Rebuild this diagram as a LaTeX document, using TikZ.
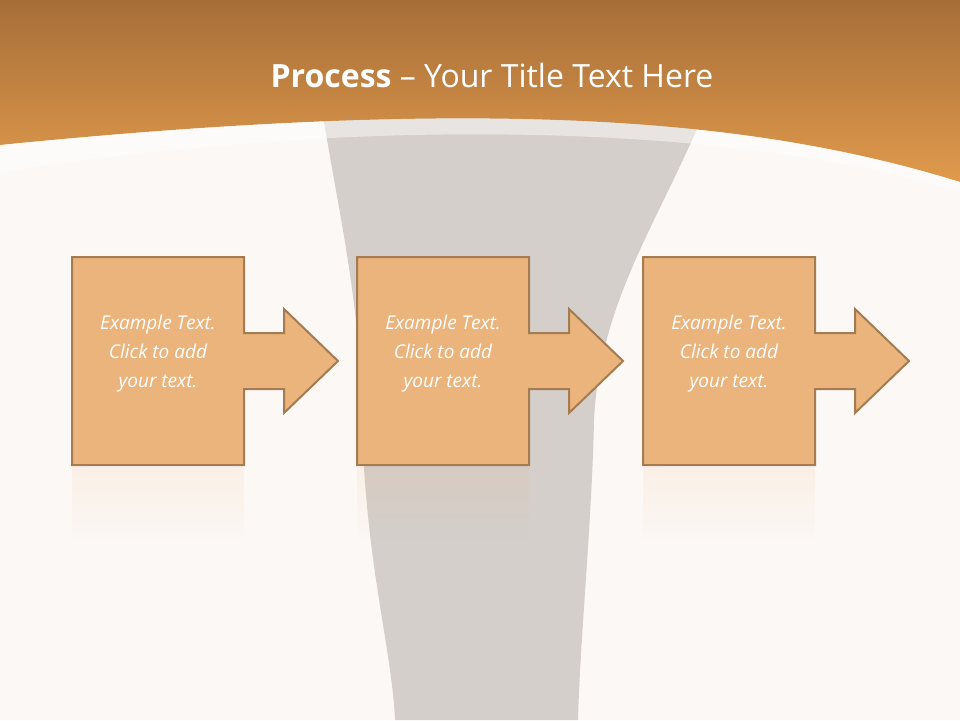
\documentclass[tikz,border=0pt]{standalone}
\usepackage{fontspec}
\setmainfont{Open Sans}
\usetikzlibrary{fadings}
\definecolor{bg}{HTML}{FCF8F5}
\definecolor{org}{HTML}{E09A4C}
\definecolor{orgd}{HTML}{A66E38}
\definecolor{boxf}{HTML}{EBB47C}
\definecolor{boxd}{HTML}{A57B52}
\definecolor{gry}{HTML}{CEC8C4}
\tikzset{stepshape/.style={fill=boxf,draw=boxd,line width=2pt},
 steptext/.style={text=white,font=\itshape\fontsize{19}{29}\selectfont,align=center}}
\begin{document}
\begin{tikzpicture}[x=1pt,y=-1pt]
\useasboundingbox (0,0) rectangle (960,720);
\fill[bg] (0,0) rectangle (960,720);
% grey funnel
\fill[gry,opacity=0.85] (322,110) .. controls (340,220) and (360,300) .. (362,420) .. controls (365,560) and (392,650) .. (395,720) -- (578,720) .. controls (580,640) and (592,520) .. (594,420) .. controls (600,300) and (660,220) .. (705,110) -- cycle;
% header
\shade[top color=orgd,bottom color=org] (0,0) -- (960,0) -- (960,182) .. controls (760,120) and (500,95) .. (0,145) -- cycle;
\fill[white,opacity=0.45] (0,145) .. controls (500,95) and (760,120) .. (960,182) -- (960,192) .. controls (760,130) and (400,110) .. (0,172) -- cycle;
\node[text=white,font=\fontsize{32}{38}\selectfont] (title) at (492,75) {\textbf{Process} -- Your Title Text Here};
% steps
\foreach \i/\x in {1/72,2/357,3/643}{
  \draw[stepshape] (\x,257) -- (\x+172,257) -- (\x+172,333) -- (\x+212,333) -- (\x+212,309) -- (\x+266,361) -- (\x+212,413) -- (\x+212,389) -- (\x+172,389) -- (\x+172,465) -- (\x,465) -- cycle;
  \fill[boxf,opacity=0.12,path fading=south] (\x,467) rectangle (\x+172,540);
  \node[steptext] (t\i) at (\x+86,354) {Example Text.\\Click  to add\\your text.};
}
\end{tikzpicture}
\end{document}
